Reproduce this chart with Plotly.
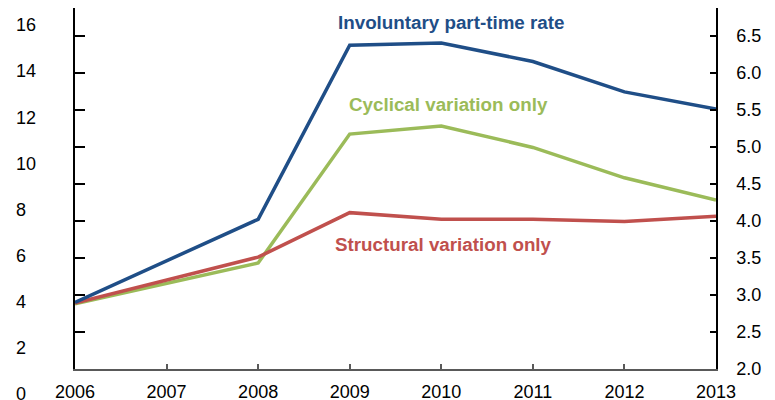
import plotly.graph_objects as go

years = [2006, 2008, 2009, 2010, 2011, 2012, 2013]
involuntary = [2.90, 4.02, 6.37, 6.40, 6.15, 5.74, 5.51]
cyclical = [2.88, 3.43, 5.17, 5.28, 4.99, 4.58, 4.28]
structural = [2.89, 3.51, 4.11, 4.02, 4.02, 3.99, 4.06]

x_ticks = [2006, 2007, 2008, 2009, 2010, 2011, 2012, 2013]
x_tick_labels = [str(y) for y in x_ticks]
right_ticks = [2.0, 2.5, 3.0, 3.5, 4.0, 4.5, 5.0, 5.5, 6.0, 6.5, 7.0]
left_ticks = [0, 2, 4, 6, 8, 10, 12, 14, 16]

series_names = ["Involuntary part-time rate", "Cyclical variation only", "Structural variation only"]
colors = ["#1F4E87", "#9BBB59", "#C0504D"]

FONT = "Liberation Sans, Arial, sans-serif"
W, H = 775, 400
OFF = 8  # page body margin
x_left, x_right = 75 - OFF, 716 - OFF
y_bottom = 369 - OFF
px_per_unit = 74.1
r_range = [2.0, 2.0 + y_bottom / px_per_unit]
left_px_per_unit = 23.05
left_zero_px = 393.8 - OFF
l_lo = -(H - left_zero_px) / left_px_per_unit
l_range = [l_lo, l_lo + H / left_px_per_unit]

fig = go.Figure()
# involuntary on the right-hand axis (same scale as the left one)
fig.add_trace(go.Scatter(x=years, y=involuntary, mode="lines", name=series_names[0],
                         line=dict(color=colors[0], width=3.5), xaxis="x", yaxis="y2"))
fig.add_trace(go.Scatter(x=years, y=cyclical, mode="lines", name=series_names[1],
                         line=dict(color=colors[1], width=3.5), xaxis="x", yaxis="y"))
fig.add_trace(go.Scatter(x=years, y=structural, mode="lines", name=series_names[2],
                         line=dict(color=colors[2], width=3.5), xaxis="x", yaxis="y"))
# empty trace so the left label axis is drawn
fig.add_trace(go.Scatter(x=[], y=[], xaxis="x2", yaxis="y3", showlegend=False,
                         hoverinfo="skip"))

fig.update_layout(
    template="none",
    width=W, height=H,
    margin=dict(l=0, r=0, t=0, b=0, pad=0),
    paper_bgcolor="white", plot_bgcolor="rgba(0,0,0,0)",
    showlegend=False,
    font=dict(family=FONT, size=18, color="black"),
    xaxis=dict(domain=[x_left / W, x_right / W], range=[2006, 2013],
               tickvals=x_ticks, ticktext=x_tick_labels,
               ticks="inside", ticklen=5, tickcolor="#595959", tickwidth=1.5,
               showline=True, linecolor="#595959", linewidth=1.5,
               showgrid=False, zeroline=False, ticklabelstandoff=6,
               anchor="y", automargin=False),
    yaxis=dict(domain=[(H - y_bottom) / H, 1], range=r_range,
               tickvals=right_ticks, ticks="inside", ticklen=10, tickcolor="black",
               tickwidth=1.5,
               showticklabels=False, showline=True, linecolor="black", linewidth=1.5,
               showgrid=False, zeroline=False, anchor="x", automargin=False),
    yaxis2=dict(overlaying="y", side="right", range=r_range,
                tickvals=right_ticks, ticktext=[f"{v:.1f}" for v in right_ticks],
                ticks="inside", ticklen=6, tickcolor="black", tickwidth=1.5,
                showline=True, linecolor="black", linewidth=1.5,
                showgrid=False, zeroline=False, anchor="x",
                ticklabelstandoff=15, automargin=False),
    xaxis2=dict(domain=[0, (13 - OFF) / W], anchor="y3", range=[0, 1],
                showline=False, showticklabels=False, ticks="", showgrid=False,
                zeroline=False, automargin=False),
    yaxis3=dict(domain=[0, 1], anchor="x2", side="right", range=l_range,
                tickvals=left_ticks, ticktext=[str(v) for v in left_ticks],
                ticks="", showline=False, showgrid=False, zeroline=False,
                ticklabelstandoff=2, automargin=False),
)

labels = [("Involuntary part-time rate", 336, 23, colors[0]),
          ("Cyclical variation only", 347, 104, colors[1]),
          ("Structural variation only", 333, 244, colors[2])]
for text, lx, ly, c in labels:
    fig.add_annotation(text=f"<b>{text}</b>", xref="paper", yref="paper",
                       x=(lx - OFF) / W, y=1 - (ly - OFF) / H,
                       xanchor="left", yanchor="middle",
                       showarrow=False, font=dict(family=FONT, size=18.8, color=c))

fig.write_html("out.html")
